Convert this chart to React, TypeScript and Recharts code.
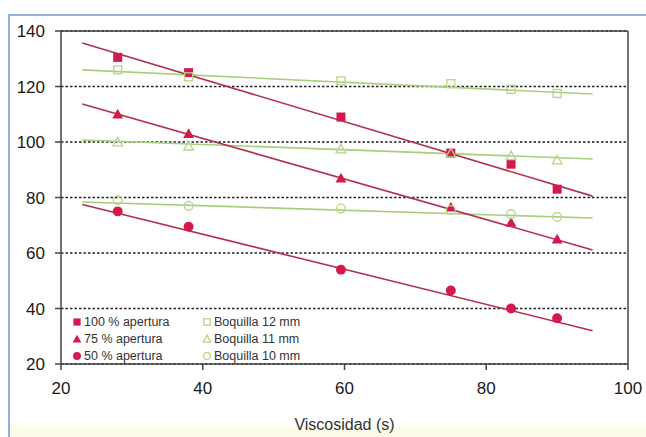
import React from "react";
import {
  ComposedChart,
  Scatter,
  XAxis,
  YAxis,
  CartesianGrid,
  ReferenceLine,
} from "recharts";

// viscosity readings (s)
const VISC = [28, 38, 59.5, 75, 83.5, 90];

// flow by valve opening (filled red markers)
const AP100 = [130.5, 125, 109, 96, 92, 83];
const AP75 = [110, 103, 87, 76.5, 71, 65];
const AP50 = [75, 69.5, 54, 46.5, 40, 36.5];

// flow by nozzle size (open green markers)
const BOQ12 = [126, 123.5, 122, 121, 119, 117.5];
const BOQ11 = [100, 98.5, 97.5, 96, 95, 93.5];
const BOQ10 = [79, 77, 76, 75.5, 74, 73];

// trend line ends
const TREND_X = [23, 95];
const TREND_AP100 = [135.7, 80.5];
const TREND_AP75 = [113.7, 61.1];
const TREND_AP50 = [77.5, 32];
const TREND_BOQ12 = [126, 117.3];
const TREND_BOQ11 = [100.7, 93.9];
const TREND_BOQ10 = [78.4, 72.6];

const X_TICKS = [20, 40, 60, 80, 100];
const Y_TICKS = [20, 40, 60, 80, 100, 120, 140];

const RED = "#d4194d";
const RED_LINE = "#b33050";
const GREEN = "#b5d68a";
const GREEN_LINE = "#a9cd7c";
const FONT = '"Liberation Sans", Arial, sans-serif';

const toPoints = (xs: number[], ys: number[]) =>
  xs.map((x, i) => ({ x, y: ys[i] }));

type Kind = "square" | "triangle" | "circle";

function Marker({ kind, cx, cy, open, k = 1 }: { kind: Kind; cx: number; cy: number; open?: boolean; k?: number }) {
  const fill = open ? "none" : RED;
  const stroke = open ? GREEN : RED;
  const sw = open ? 1.3 : 0;
  const h = (open ? 4 : 4.5) * k;
  if (kind === "square") {
    return <rect x={cx - h} y={cy - h} width={2 * h} height={2 * h} fill={fill} stroke={stroke} strokeWidth={sw} />;
  }
  if (kind === "triangle") {
    const t = h * 1.2;
    return (
      <polygon
        points={`${cx},${cy - t} ${cx + t},${cy + t * 0.8} ${cx - t},${cy + t * 0.8}`}
        fill={fill}
        stroke={stroke}
        strokeWidth={sw}
      />
    );
  }
  return <circle cx={cx} cy={cy} r={h * 1.1} fill={fill} stroke={stroke} strokeWidth={sw} />;
}

const shapeFor = (kind: Kind, open?: boolean) => (p: any) =>
  <Marker kind={kind} cx={p.cx} cy={p.cy} open={open} />;

const noShape = () => <g />;

const SERIES = [
  { name: "100 % apertura", kind: "square" as Kind, open: false, values: AP100 },
  { name: "75 % apertura", kind: "triangle" as Kind, open: false, values: AP75 },
  { name: "50 % apertura", kind: "circle" as Kind, open: false, values: AP50 },
  { name: "Boquilla 12 mm", kind: "square" as Kind, open: true, values: BOQ12 },
  { name: "Boquilla 11 mm", kind: "triangle" as Kind, open: true, values: BOQ11 },
  { name: "Boquilla 10 mm", kind: "circle" as Kind, open: true, values: BOQ10 },
];

const TRENDS = [
  { key: "t12", values: TREND_BOQ12, color: GREEN_LINE },
  { key: "t11", values: TREND_BOQ11, color: GREEN_LINE },
  { key: "t10", values: TREND_BOQ10, color: GREEN_LINE },
  { key: "t100", values: TREND_AP100, color: RED_LINE },
  { key: "t75", values: TREND_AP75, color: RED_LINE },
  { key: "t50", values: TREND_AP50, color: RED_LINE },
];

function LegendBox() {
  const col = (items: typeof SERIES, left: number) =>
    items.map((s, i) => (
      <div
        key={s.name}
        style={{ position: "absolute", left, top: i * 17, display: "flex", alignItems: "center", height: 16 }}
      >
        <svg width={10} height={12} style={{ marginRight: 2 }}>
          <Marker kind={s.kind} cx={5} cy={6} open={s.open} k={0.8} />
        </svg>
        <span style={{ fontSize: 12.5, color: "#333", whiteSpace: "nowrap" }}>{s.name}</span>
      </div>
    ));
  return (
    <div style={{ position: "absolute", left: 72, top: 314, fontFamily: FONT }}>
      {col(SERIES.slice(0, 3), 0)}
      {col(SERIES.slice(3), 130)}
    </div>
  );
}

export default function App() {
  return (
    <div
      style={{
        position: "absolute",
        left: 0,
        top: 0,
        width: 646,
        height: 437,
        background: "#fff",
        overflow: "hidden",
        fontFamily: FONT,
      }}
    >
      <div
        style={{
          position: "absolute",
          left: 8,
          top: 14,
          width: 700,
          height: 440,
          borderTop: "2px solid #8fb1dc",
          borderLeft: "2px solid #8fb1dc",
        }}
      />
      <div style={{ position: "absolute", left: 10, top: 425, width: 640, height: 12, background: "#fdfbea" }} />
      <ComposedChart
        width={646}
        height={437}
        margin={{ top: 31, right: 18, left: 0, bottom: 0 }}
        style={{ position: "absolute", left: 0, top: 0 }}
      >
        <CartesianGrid
          horizontal
          vertical={false}
          stroke="#222"
          strokeWidth={1.5}
          strokeDasharray="2.5 2"
        />
        <XAxis
          dataKey="x"
          type="number"
          domain={[20, 100]}
          ticks={X_TICKS}
          allowDataOverflow
          height={73}
          stroke="#444"
          strokeWidth={1.5}
          tickSize={6}
          tickMargin={12}
          tick={{ fill: "#1a1a1a", fontSize: 17 }}
          label={{ value: "Viscosidad (s)", position: "insideBottom", offset: 7, fill: "#333", fontSize: 16 }}
        />
        <YAxis
          dataKey="y"
          type="number"
          domain={[20, 140]}
          ticks={Y_TICKS}
          allowDataOverflow
          width={61}
          stroke="#444"
          strokeWidth={1.5}
          tickSize={6}
          tickMargin={10}
          tick={{ fill: "#1a1a1a", fontSize: 17 }}
        />
        <ReferenceLine y={140} stroke="#444" strokeWidth={1.5} />
        <ReferenceLine x={100} stroke="#444" strokeWidth={1.5} />
        {TRENDS.map((t) => (
          <Scatter
            key={t.key}
            data={toPoints(TREND_X, t.values)}
            line={{ stroke: t.color, strokeWidth: 1.6 }}
            shape={noShape}
            isAnimationActive={false}
          />
        ))}
        {SERIES.map((s) => (
          <Scatter
            key={s.name}
            name={s.name}
            data={toPoints(VISC, s.values)}
            shape={shapeFor(s.kind, s.open)}
            isAnimationActive={false}
          />
        ))}
      </ComposedChart>
      <LegendBox />
    </div>
  );
}
